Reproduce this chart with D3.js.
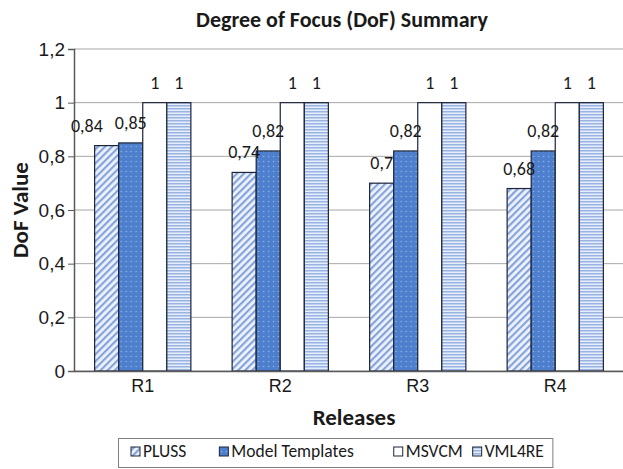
<!DOCTYPE html>
<html>
<head>
<meta charset="utf-8">
<script src="https://cdn.jsdelivr.net/npm/d3@7"></script>
<style>
  body { margin: 0; background: #fff; }
  svg { display: block; font-family: Carlito, Calibri, Lato, sans-serif; }
</style>
</head>
<body>
<svg width="623" height="469"></svg>
<script>
const releases = ['R1', 'R2', 'R3', 'R4'];
const seriesNames = ['PLUSS', 'Model Templates', 'MSVCM', 'VML4RE'];
const pluss = [0.84, 0.74, 0.7, 0.68];
const modelTemplates = [0.85, 0.82, 0.82, 0.82];
const msvcm = [1, 1, 1, 1];
const vml4re = [1, 1, 1, 1];
const yTicks = [0, 0.2, 0.4, 0.6, 0.8, 1, 1.2];

const values = [pluss, modelTemplates, msvcm, vml4re];
const fills = ['url(#pluss)', 'url(#mt)', '#ffffff', 'url(#vml)'];

const svg = d3.select('svg');
const plotLeft = 74, plotRight = 624, plotTop = 49, plotBottom = 371;
const ink = '#1a1a1a';

// patterns
const defs = svg.append('defs');
let p = defs.append('pattern').attr('id', 'pluss').attr('patternUnits', 'userSpaceOnUse')
  .attr('width', 5).attr('height', 5).attr('patternTransform', 'rotate(45)');
p.append('rect').attr('width', 5).attr('height', 5).attr('fill', '#eef3fc');
p.append('rect').attr('width', 2.2).attr('height', 5).attr('fill', '#86a4dc');

p = defs.append('pattern').attr('id', 'mt').attr('patternUnits', 'userSpaceOnUse')
  .attr('width', 5).attr('height', 5);
p.append('rect').attr('width', 5).attr('height', 5).attr('fill', '#4e7fcd');
p.append('circle').attr('cx', 1.5).attr('cy', 1.5).attr('r', 0.75).attr('fill', '#93b3ea');

p = defs.append('pattern').attr('id', 'vml').attr('patternUnits', 'userSpaceOnUse')
  .attr('width', 4).attr('height', 3);
p.append('rect').attr('width', 4).attr('height', 3).attr('fill', '#e6edf9');
p.append('rect').attr('width', 4).attr('height', 1.5).attr('fill', '#98b4e3');

// scales
const x0 = d3.scaleBand().domain(releases).range([plotLeft, plotRight]).paddingInner(0.3).paddingOuter(0.15);
const x1 = d3.scaleBand().domain(d3.range(seriesNames.length)).range([0, x0.bandwidth()]);
const y = d3.scaleLinear().domain([0, 1.2]).range([plotBottom, plotTop]);

// gridlines
svg.append('g').selectAll('line').data(yTicks).join('line')
  .attr('x1', plotLeft).attr('x2', plotRight)
  .attr('y1', d => y(d)).attr('y2', d => y(d))
  .attr('stroke', '#a6a6a6').attr('stroke-width', 1);

// y axis
const yAxis = d3.axisLeft(y).tickValues(yTicks).tickSize(6).tickPadding(3)
  .tickFormat(d => String(d).replace('.', ','));
const gy = svg.append('g').attr('transform', `translate(${plotLeft},0)`).call(yAxis);
gy.select('.domain').attr('stroke', '#5a5a5a').attr('stroke-width', 1.5);
gy.selectAll('.tick line').attr('stroke', '#5a5a5a');
gy.selectAll('.tick text').attr('font-size', 19).attr('fill', ink);

// bars
const groups = svg.append('g').selectAll('g').data(releases).join('g')
  .attr('transform', d => `translate(${x0(d)},0)`);

groups.selectAll('rect')
  .data((r, i) => values.map((s, k) => ({ k, v: s[i] })))
  .join('rect')
  .attr('x', d => x1(d.k))
  .attr('width', x1.bandwidth())
  .attr('y', d => y(d.v))
  .attr('height', d => y(0) - y(d.v))
  .attr('fill', d => fills[d.k])
  .attr('stroke', '#1c2438').attr('stroke-width', 1.2);

// value labels
groups.each(function () {
  const labels = d3.select(this).selectAll('text.val')
    .data(d3.select(this).selectAll('rect').data())
    .join('text').attr('class', 'val')
    .attr('x', d => x1(d.k) + x1.bandwidth() / 2)
    .attr('y', d => y(d.v) - 14)
    .attr('text-anchor', 'middle')
    .attr('font-size', 18).attr('fill', ink)
    .text(d => String(d.v).replace('.', ','));
  // nudge a label left when it sits on the same line as its right neighbour
  const nodes = labels.nodes();
  for (let i = nodes.length - 2; i >= 0; i--) {
    const a = nodes[i].getBBox(), b = nodes[i + 1].getBBox();
    const sameLine = Math.abs(a.y - b.y) < 10;
    if (sameLine && a.x + a.width > b.x) {
      const shift = a.x + a.width - (b.x - 12);
      d3.select(nodes[i]).attr('x', +nodes[i].getAttribute('x') - shift);
    }
  }
});

// x axis
const gx = svg.append('g').attr('transform', `translate(0,${plotBottom})`)
  .call(d3.axisBottom(x0).tickSize(0).tickPadding(8));
gx.select('.domain').attr('stroke', '#5a5a5a').attr('stroke-width', 1.5);
gx.selectAll('.tick text').attr('font-size', 18).attr('fill', ink);

// titles
svg.append('text').attr('x', 342).attr('y', 27).attr('text-anchor', 'middle')
  .attr('font-size', 22).attr('font-weight', 'bold').attr('fill', ink)
  .text('Degree of Focus (DoF) Summary');
svg.append('text').attr('transform', `translate(28,${(plotTop + plotBottom) / 2}) rotate(-90)`)
  .attr('text-anchor', 'middle')
  .attr('font-size', 23).attr('font-weight', 'bold').attr('fill', ink)
  .text('DoF Value');
svg.append('text').attr('x', 354).attr('y', 425).attr('text-anchor', 'middle')
  .attr('font-size', 23).attr('font-weight', 'bold').attr('fill', ink)
  .text('Releases');

// legend, laid out from measured text widths
const legendGaps = [33, 40, 10];
const legend = svg.append('g');
const box = legend.append('rect').attr('y', 438.5).attr('height', 29)
  .attr('fill', '#fff').attr('stroke', '#7f7f7f');
let lx = 131;
seriesNames.forEach((name, i) => {
  legend.append('rect').attr('x', lx).attr('y', 447).attr('width', 9).attr('height', 9)
    .attr('fill', fills[i]).attr('stroke', '#1c2438').attr('stroke-width', 1);
  const t = legend.append('text').attr('x', lx + 12).attr('y', 457)
    .attr('font-size', 17.5).attr('fill', ink).text(name);
  lx += 12 + t.node().getComputedTextLength();
  if (i < legendGaps.length) lx += legendGaps[i];
});
box.attr('x', 118.5).attr('width', lx + 9 - 118.5);
</script>
</body>
</html>
